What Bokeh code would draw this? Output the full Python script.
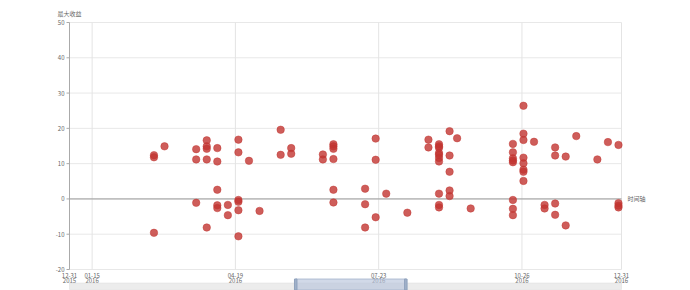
import pandas as pd
from bokeh.plotting import figure
from bokeh.models import Range1d, ColumnDataSource
from bokeh.core.properties import value
from bokeh.embed import file_html
from bokeh.resources import INLINE

# ---- data ----
dates = (
    ["2016-02-25"] * 3 + ["2016-03-03"] + ["2016-03-24"] * 3 + ["2016-03-31"] * 5 +
    ["2016-04-07"] * 5 + ["2016-04-14"] * 2 + ["2016-04-21"] * 6 + ["2016-04-28"] +
    ["2016-05-05"] + ["2016-05-19"] * 2 + ["2016-05-26"] * 2 + ["2016-06-16"] * 2 +
    ["2016-06-23"] * 6 + ["2016-07-14"] * 3 + ["2016-07-21"] * 3 + ["2016-07-28"] +
    ["2016-08-11"] + ["2016-08-25"] * 2 + ["2016-09-01"] * 10 + ["2016-09-08"] * 5 +
    ["2016-09-13"] + ["2016-09-22"] + ["2016-10-20"] * 8 + ["2016-10-27"] * 8 +
    ["2016-11-03"] + ["2016-11-10"] * 2 + ["2016-11-17"] * 4 + ["2016-11-24"] * 2 +
    ["2016-12-01"] + ["2016-12-15"] + ["2016-12-22"] + ["2016-12-29"] * 4
)
max_gain = [
    12.4, 11.8, -9.6,
    14.9,
    14.1, 11.2, -1.1,
    16.6, 14.9, 14.2, 11.2, -8.1,
    14.4, 10.6, 2.6, -1.8, -2.6,
    -1.7, -4.6,
    16.8, 13.2, -0.3, -0.8, -3.2, -10.6,
    10.8,
    -3.4,
    19.6, 12.5,
    14.4, 12.8,
    12.6, 11.2,
    15.5, 14.9, 14.2, 11.3, 2.6, -1.0,
    2.9, -1.5, -8.1,
    17.1, 11.1, -5.2,
    1.5,
    -3.9,
    16.8, 14.6,
    15.5, 14.9, 14.5, 13.0, 12.5, 11.6, 10.6, 1.5, -1.7, -2.4,
    19.2, 12.3, 7.7, 2.4, 0.8,
    17.2,
    -2.7,
    15.6, 13.2, 11.5, 10.9, 10.4, -0.3, -2.8, -4.6,
    26.4, 18.5, 16.7, 11.7, 10.1, 8.3, 7.7, 5.1,
    16.2,
    -1.7, -2.7,
    14.6, 12.3, -1.3, -4.5,
    12.0, -7.5,
    17.8,
    11.2,
    16.1,
    15.3, -1.2, -1.9, -2.4,
]
x_ticks = ["2015-12-31", "2016-01-15", "2016-04-19", "2016-07-23", "2016-10-26", "2016-12-31"]
x_tick_labels = ["12-31\n2015", "01-15\n2016", "04-19\n2016", "07-23\n2016", "10-26\n2016", "12-31\n2016"]
y_ticks = [-20, -10, 0, 10, 20, 30, 40, 50]
x_name = "时间轴"
y_name = "最大收益"
zoom_start = "2016-05-29"
zoom_end = "2016-08-10"


def ms(d):
    return float(pd.Timestamp(d).value // 1_000_000)


FONT = value("Noto Sans CJK SC")
TXT = "#666666"
W, H = 690, 290
LEFT, RIGHT, TOP, BOTTOM = 69, 621, 22, 269   # plot-area box in pixels

tick_ms = [ms(d) for d in x_ticks]
t0, t1 = tick_ms[0], tick_ms[-1]
ymin, ymax = y_ticks[0], y_ticks[-1]
sx = (RIGHT - LEFT) / (t1 - t0)          # px per ms
sy = (BOTTOM - TOP) / (ymax - ymin)      # px per unit

p = figure(width=W, height=H, output_backend="svg", toolbar_location=None,
           x_range=Range1d(t0 - LEFT / sx, t1 + (W - RIGHT) / sx),
           y_range=Range1d(ymin - (H - BOTTOM) / sy, ymax + TOP / sy),
           x_axis_location=None, y_axis_location=None,
           min_border=0, background_fill_color="white", border_fill_color="white")
p.outline_line_color = None
p.xgrid.visible = False
p.ygrid.visible = False

# horizontal grid lines
n_y = len(y_ticks)
p.segment(x0=[t0] * n_y, y0=y_ticks, x1=[t1] * n_y, y1=y_ticks, line_color="#e8e8e8", line_width=1)
# vertical grid lines
n_x = len(tick_ms)
p.segment(x0=tick_ms, y0=[ymin] * n_x, x1=tick_ms, y1=[ymax] * n_x, line_color="#e4e4e4", line_width=1)

# y axis line, ticks and labels
p.segment(x0=[t0], y0=[ymin], x1=[t0], y1=[ymax], line_color="#aaaaaa", line_width=1)
p.segment(x0=[t0 - 3 / sx] * n_y, y0=y_ticks, x1=[t0] * n_y, y1=y_ticks, line_color="#aaaaaa", line_width=1)
p.text(x=[t0] * n_y, y=y_ticks, text=[str(v) for v in y_ticks], x_offset=-5,
       text_align="right", text_baseline="middle", text_font_size="6px",
       text_color=TXT, text_font=FONT)

# zero axis line
p.segment(x0=[t0], y0=[0], x1=[t1], y1=[0], line_color="#9a9a9a", line_width=1)

# x tick labels (two lines)
line1 = [s.split("\n")[0] for s in x_tick_labels]
line2 = [s.split("\n")[1] for s in x_tick_labels]
p.text(x=tick_ms, y=[ymin] * n_x, text=line1, y_offset=3, text_align="center",
       text_baseline="top", text_font_size="6px", text_color=TXT, text_font=FONT)
p.text(x=tick_ms, y=[ymin] * n_x, text=line2, y_offset=8.5, text_align="center",
       text_baseline="top", text_font_size="6px", text_color=TXT, text_font=FONT)

# axis names
p.text(x=[t1], y=[0], text=[x_name], x_offset=6, text_align="left", text_baseline="middle",
       text_font_size="6px", text_color=TXT, text_font=FONT)
p.text(x=[t0], y=[ymax], text=[y_name], y_offset=-5, text_align="center", text_baseline="bottom",
       text_font_size="6px", text_color=TXT, text_font=FONT)

# data
src = ColumnDataSource(dict(x=[ms(d) for d in dates], y=max_gain))
p.scatter("x", "y", source=src, size=7.5, fill_color="#c23531", fill_alpha=0.8,
          line_color="#c23531", line_alpha=0.9, line_width=0.5)

# dataZoom slider below the plot
p.quad(left=[t0], right=[t1], bottom=[ymin - 20 / sy], top=[ymin - 13.5 / sy],
       fill_color="#ececec", line_color="#dddddd", line_width=0.5)
p.quad(left=[ms(zoom_start)], right=[ms(zoom_end)], bottom=[ymin - 20.5 / sy], top=[ymin - 9.5 / sy],
       fill_color="#b8c5db", fill_alpha=0.65, line_color="#a3b3cc", line_width=0.8)
p.rect(x=[ms(zoom_start), ms(zoom_end)], y=[ymin - 15 / sy] * 2, width=2.5, height=11,
       width_units="screen", height_units="screen", fill_color="#a0b1c9", line_color="#8fa2bd")

open("out.html", "w").write(file_html(p, INLINE))
